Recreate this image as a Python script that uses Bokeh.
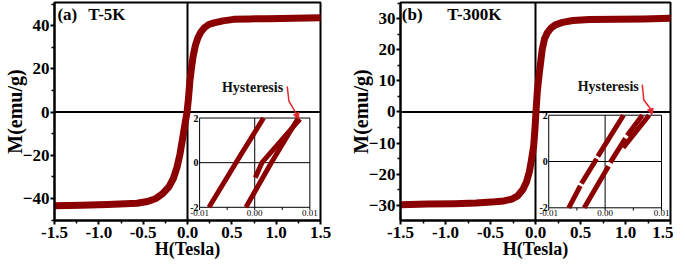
from bokeh.plotting import figure
from bokeh.layouts import row
from bokeh.models import Range1d, FixedTicker, Span, Arrow, NormalHead
from bokeh.core.properties import value
from bokeh.embed import file_html
from bokeh.resources import INLINE

# ---------------- data ----------------
# (a) T = 5 K main loop
H_5K = [-1.5, -1.2, -0.9, -0.7, -0.57, -0.45, -0.355, -0.28, -0.21, -0.16, -0.118, -0.085,
        -0.06, -0.04, -0.02, -0.005, 0.01, 0.027, 0.045, 0.064, 0.09, 0.118, 0.15, 0.19,
        0.24, 0.3, 0.4, 0.52, 0.7, 0.9, 1.2, 1.5]
M_5K = [-43.4, -43.1, -42.8, -42.5, -42.2, -41.4, -40.0, -37.8, -34.6, -30.8, -25.5, -19.5,
        -13.5, -8.5, -3.5, 0.0, 6.0, 14.3, 20.5, 25.9, 31.0, 34.4, 37.0, 39.0,
        40.5, 41.3, 42.2, 42.9, 43.1, 43.2, 43.4, 43.6]
# (b) T = 300 K main loop
H_300K = [-1.5, -1.2, -0.9, -0.66, -0.45, -0.35, -0.26, -0.2, -0.14, -0.1, -0.068, -0.045,
          -0.02, -0.005, 0.004, 0.02, 0.04, 0.075, 0.1, 0.13, 0.17, 0.22, 0.3, 0.415,
          0.6, 0.9, 1.2, 1.5]
M_300K = [-29.8, -29.6, -29.5, -29.3, -28.9, -28.6, -28.0, -27.0, -24.9, -22.5, -19.2, -15.5,
          -10.9, -5.0, -0.5, 6.5, 11.9, 20.2, 23.5, 25.4, 26.9, 28.0, 28.8, 29.4,
          29.7, 29.8, 29.9, 30.1]

# insets (zoom near origin)
inset_5K_H = [[-0.0083, -0.0034, 0.0016], [-0.0016, 0.0030, 0.0079], [0.0001, 0.0013, 0.0082]]
inset_5K_M = [[-2.0, 0.0, 2.0], [-2.0, 0.0, 2.0], [-0.67, 0.0, 1.95]]
inset_300K_H = [[-0.00645, -0.0044], [-0.0042, -0.0015], [-0.0013, 0.00326],
                [-0.0037, 0.0006], [0.0009, 0.0036], [0.0039, 0.0066], [0.0032, 0.0078]]
inset_300K_M = [[-2.0, -1.05], [-0.95, 0.12], [0.22, 2.0],
                [-2.0, -0.2], [-0.05, 1.0], [1.12, 2.0], [0.6, 2.0]]

# ticks / labels
x_ticks = [-1.5, -1.0, -0.5, 0.0, 0.5, 1.0, 1.5]
x_minor = [-1.25, -0.75, -0.25, 0.25, 0.75, 1.25]
x_labels = ["-1.5", "-1.0", "-0.5", "0.0", "0.5", "1.0", "1.5"]
y_ticks_5K = [-40, -20, 0, 20, 40]
y_minor_5K = [-50, -30, -10, 10, 30, 50]
y_ticks_300K = [-30, -20, -10, 0, 10, 20, 30]
y_minor_300K = [-35, -25, -15, -5, 5, 15, 25, 35]
inset_x_ticks = [-0.01, 0.0, 0.01]
inset_x_labels = ["-0.01", "0.00", "0.01"]
inset_x_minor = [-0.005, 0.005]
inset_y_ticks = [-2, 0, 2]
inset_y_labels = ["-2", "0", "2"]

CURVE = "#8b0000"
ARROW = "#e3262b"
SERIF = "Liberation Serif"


def inset_range(lo, hi, f0, f1):
    span = (hi - lo) / (f1 - f0)
    start = lo - f0 * span
    return Range1d(start, start + span)


def panel(H, M, y_rng, yt, ym, ins_H, ins_M, ins_frac, tag, temp, tag_pos, temp_pos,
          hyst_pos, arrow_x, arrow_y, width, min_left, min_right, min_top, height):
    p = figure(width=width, height=height, x_range=Range1d(-1.5, 1.5), y_range=Range1d(*y_rng),
               output_backend="svg", toolbar_location=None,
               min_border_left=min_left, min_border_right=min_right,
               min_border_top=min_top, min_border_bottom=44)
    p.grid.visible = False
    p.outline_line_color = "black"
    p.outline_line_width = 2
    p.background_fill_color = "white"
    p.border_fill_color = "white"

    p.xaxis.ticker = FixedTicker(ticks=x_ticks, minor_ticks=x_minor)
    p.xaxis.major_label_overrides = {t: l for t, l in zip(x_ticks, x_labels)}
    p.yaxis.ticker = FixedTicker(ticks=yt, minor_ticks=ym)
    p.xaxis.axis_label = "H(Tesla)"
    p.yaxis.axis_label = "M(emu/g)"
    for ax in (p.xaxis[0], p.yaxis[0]):
        ax.axis_line_width = 2
        ax.major_tick_line_width = 2
        ax.minor_tick_line_width = 1.5
        ax.major_tick_out = 4
        ax.major_tick_in = 0
        ax.minor_tick_out = 3
        ax.minor_tick_in = 0
        ax.major_label_text_font = SERIF
        ax.major_label_text_font_style = "bold"
        ax.major_label_text_font_size = "17px"
        ax.major_label_text_color = "black"
        ax.axis_label_text_font = SERIF
        ax.axis_label_text_font_style = "bold"
        ax.axis_label_text_color = "black"
    p.yaxis[0].major_label_standoff = 1
    p.yaxis[0].axis_label_standoff = -6
    p.yaxis[0].axis_label_text_font_size = "20px"
    p.xaxis[0].major_label_standoff = 2
    p.xaxis[0].axis_label_standoff = -2
    p.xaxis[0].axis_label_text_font_size = "18px"

    p.add_layout(Span(location=0, dimension="height", line_color="black", line_width=2, level="underlay"))
    p.add_layout(Span(location=0, dimension="width", line_color="black", line_width=2, level="underlay"))

    p.line(H, M, line_width=7, color=CURVE, line_join="round", line_cap="round")

    p.text(x=[tag_pos[0]], y=[tag_pos[1]], text=[tag], text_font=value(SERIF), text_font_style="bold",
           text_font_size="17px", text_baseline="middle", text_align="left", text_color="black")
    p.text(x=[temp_pos[0]], y=[temp_pos[1]], text=[temp], text_font=value(SERIF), text_font_style="bold",
           text_font_size="17px", text_baseline="middle", text_align="left", text_color="black")

    # inset via extra ranges
    fx0, fx1, fy0, fy1 = ins_frac
    p.extra_x_ranges = {"ix": inset_range(inset_x_ticks[0], inset_x_ticks[-1], fx0, fx1)}
    p.extra_y_ranges = {"iy": inset_range(inset_y_ticks[0], inset_y_ticks[-1], fy0, fy1)}
    kw = dict(x_range_name="ix", y_range_name="iy")
    xl, xr = inset_x_ticks[0], inset_x_ticks[-1]
    yb, yt2 = inset_y_ticks[0], inset_y_ticks[-1]
    p.quad(left=[xl], right=[xr], bottom=[yb], top=[yt2], fill_color="white",
           line_color="black", line_width=1, **kw)
    p.segment(x0=[0, xl], y0=[yb, 0], x1=[0, xr], y1=[yt2, 0], line_color="black", line_width=1, **kw)
    tx = inset_x_ticks + inset_x_minor
    p.segment(x0=tx, y0=[yb] * len(tx), x1=tx, y1=[yb - 0.12] * len(tx),
              line_color="black", line_width=1, **kw)
    p.multi_line(xs=ins_H, ys=ins_M, line_color=CURVE, line_width=5, line_cap="butt", **kw)
    p.text(x=inset_x_ticks, y=[yb - 0.1] * 3, text=inset_x_labels, text_font=value(SERIF),
           text_font_size="9px", text_align="center", text_baseline="top", text_color="black", **kw)
    p.text(x=[xl] * 3, y=inset_y_ticks, text=inset_y_labels, text_font=value(SERIF), text_font_style="bold",
           text_font_size="10px", text_align="right", text_baseline="middle", text_color="black",
           x_offset=-1, **kw)

    # hysteresis annotation
    p.text(x=[hyst_pos[0]], y=[hyst_pos[1]], text=["Hysteresis"], text_font=value(SERIF),
           text_font_style="bold", text_font_size="14px", text_align="center", text_baseline="middle",
           text_color="#111111", **kw)
    p.line(arrow_x[:-1], arrow_y[:-1], line_color=ARROW, line_width=1.5, **kw)
    p.add_layout(Arrow(end=NormalHead(size=6, fill_color=ARROW, line_color=ARROW, line_width=1),
                       x_start=arrow_x[-2], y_start=arrow_y[-2], x_end=arrow_x[-1], y_end=arrow_y[-1],
                       line_color=ARROW, line_width=1.5, **kw))
    return p


pa = panel(H_5K, M_5K, (-50.2, 50.7), y_ticks_5K, y_minor_5K, inset_5K_H, inset_5K_M,
           (0.5455, 0.96, 0.0605, 0.47), "(a)", "T-5K", (-1.467, 45.2), (-1.118, 45.2),
           (-0.0004, 3.38), [0.0059, 0.0062, 0.0073, 0.0080], [3.42, 2.76, 2.3, 1.96],
           width=346, min_left=46, min_right=26, min_top=2, height=264)
pb = panel(H_300K, M_300K, (-34.9, 35.2), y_ticks_300K, y_minor_300K, inset_300K_H, inset_300K_M,
           (0.549, 0.9667, 0.0582, 0.483), "(b)", "T-300K", (-1.486, 31.5), (-0.981, 31.5),
           (0.00055, 3.24), [0.00659, 0.00686, 0.0080, 0.0083], [3.32, 2.66, 2.29, 2.02],
           width=327, min_left=46, min_right=3, min_top=1, height=264)

layout = row(pa, pb)
open("out.html", "w").write(file_html(layout, INLINE))
